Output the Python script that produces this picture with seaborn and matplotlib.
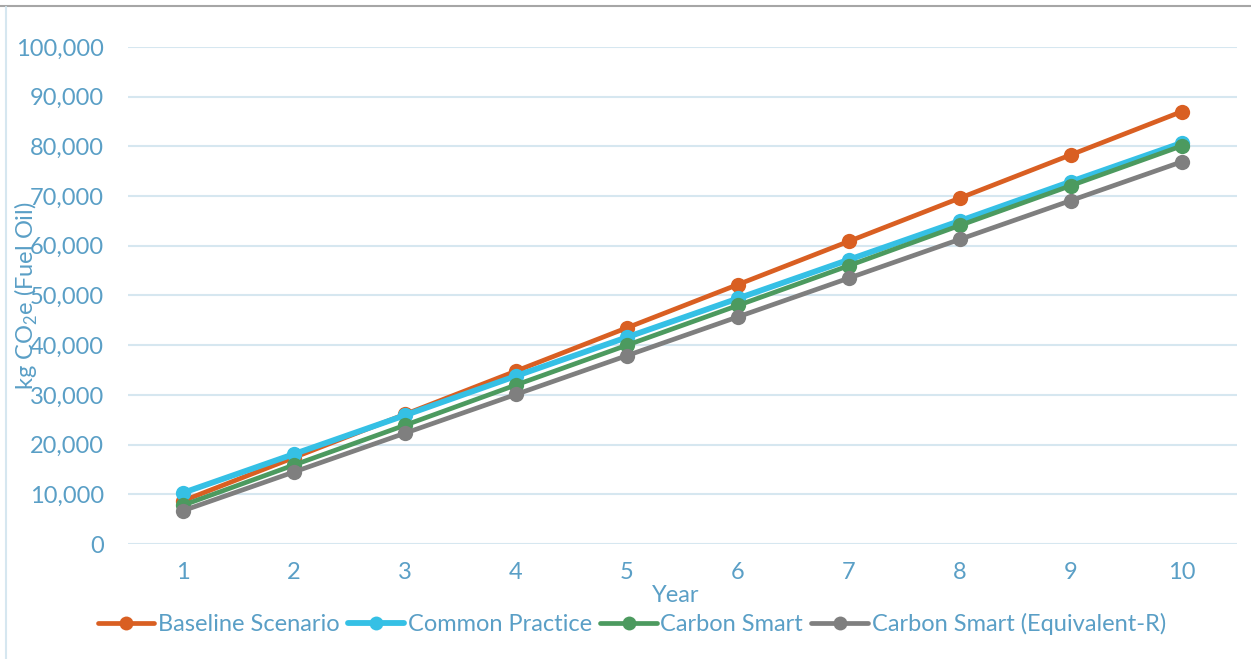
import pandas as pd
import numpy as np
import seaborn as sns
import matplotlib.pyplot as plt
from matplotlib.lines import Line2D
from matplotlib.ticker import FuncFormatter

sns.set_style("white")
plt.rcParams['font.family'] = ['Lato', 'DejaVu Sans']
plt.rcParams['mathtext.fontset'] = 'custom'
plt.rcParams['mathtext.rm'] = 'Lato'

# values
years = [1, 2, 3, 4, 5, 6, 7, 8, 9, 10]
baseline = [8700, 17400, 26100, 34800, 43500, 52200, 60900, 69600, 78300, 87000]
common = [10300, 18100, 25900, 33800, 41600, 49400, 57200, 65000, 72900, 80700]
smart = [7800, 15900, 23900, 32000, 40000, 48000, 56000, 64100, 72100, 80100]
smart_r = [6700, 14500, 22300, 30100, 37900, 45700, 53500, 61300, 69100, 76900]
series_names = ["Baseline Scenario", "Common Practice", "Carbon Smart",
                "Carbon Smart (Equivalent-R)"]
colors = ["#d95f22", "#35c0e5", "#4c9a5f", "#7f7f7f"]
widths = [3.4, 4.2, 3.4, 3.4]

df = pd.DataFrame({
    'Year': years * 4,
    'value': baseline + common + smart + smart_r,
    'series': np.repeat(series_names, len(years)),
})

text_col = "#5a9fc6"
grid_col = "#d6e7f0"

fig = plt.figure(figsize=(12.51, 6.59), dpi=100)
ax = fig.add_axes([0.102, 0.1745, 0.887, 0.7542])

for name, c, w in zip(series_names, colors, widths):
    sub = df[df['series'] == name]
    sns.lineplot(data=sub, x='Year', y='value', ax=ax, color=c, linewidth=w,
                 marker='o', markersize=11, markeredgewidth=0, label=name,
                 clip_on=False)

ax.set_xlim(0.5, 10.5)
ax.set_ylim(0, 100000)
ax.set_xticks(years)
ax.set_yticks(range(0, 100001, 10000))
ax.yaxis.set_major_formatter(FuncFormatter(lambda v, p: f"{int(v):,}"))
ax.tick_params(axis='both', length=0, labelsize=17, labelcolor=text_col)
ax.tick_params(axis='y', pad=17)
ax.tick_params(axis='x', pad=13)
ax.grid(axis='y', color=grid_col, linewidth=1.5)
ax.set_axisbelow(True)
for s in ax.spines.values():
    s.set_visible(False)

ax.set_xlabel("Year", fontsize=17, color=text_col)
ax.xaxis.set_label_coords(0.494, -0.083)
ax.set_ylabel(r"kg CO$_\mathrm{2}$e (Fuel Oil)", fontsize=17, color=text_col)
ax.yaxis.set_label_coords(-0.079, 0.5)

ax.get_legend().remove()
handles = [Line2D([], [], color=c, linewidth=w, marker='o', markersize=10,
                  markeredgewidth=0) for c, w in zip(colors, widths)]
leg = fig.legend(handles, series_names, loc='center', bbox_to_anchor=(0.505, 0.053),
                 ncol=4, frameon=False, fontsize=17, handlelength=2.4,
                 handletextpad=0.15, columnspacing=0.35)
for t in leg.get_texts():
    t.set_color(text_col)

# chart area border
fig.add_artist(Line2D([0, 1], [0.991, 0.991], color="#a6a6a6", linewidth=1.5))
fig.add_artist(Line2D([0.0045, 0.0045], [0, 0.99], color=grid_col, linewidth=1.5))

fig.savefig("out.png", dpi=100)
